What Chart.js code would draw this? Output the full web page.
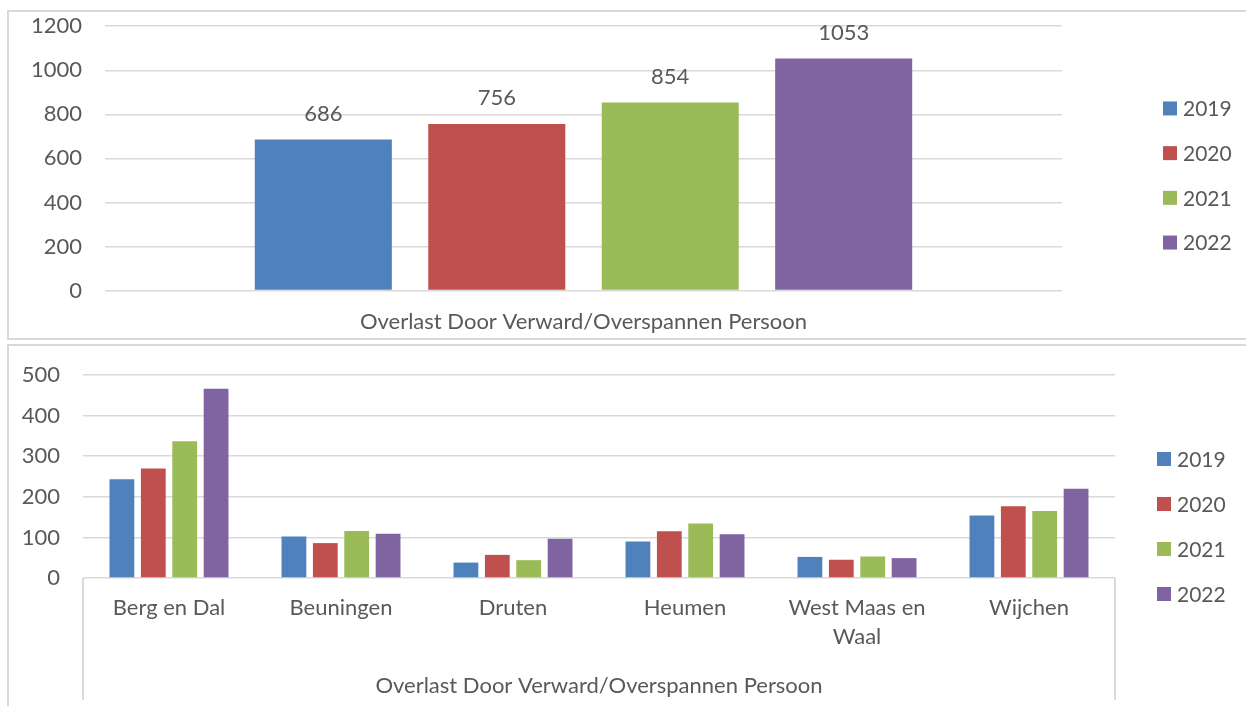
<!DOCTYPE html>
<html>
<head>
<meta charset="utf-8">
<script src="https://cdn.jsdelivr.net/npm/chart.js@4.4.0/dist/chart.umd.min.js"></script>
<style>
body { margin: 0; background: #fff; width: 1246px; height: 706px; overflow: hidden; position: relative; }
.box { position: absolute; border: 2px solid #d9d9d9; box-sizing: border-box; }
canvas { position: absolute; }
</style>
</head>
<body>
<div class="box" style="left:7px;top:10px;width:1250px;height:330px"></div>
<div class="box" style="left:7px;top:344px;width:1250px;height:380px"></div>
<canvas id="chartTotaal" style="left:9px;top:13px" width="1237" height="325"></canvas>
<canvas id="chartGemeenten" style="left:9px;top:347px" width="1237" height="359"></canvas>
<script>
const years = ['2019', '2020', '2021', '2022']
const colors = ['#4F81BD', '#C0504D', '#9BBB59', '#8064A2']

// bovenste grafiek: totaal
const totalCategory = ['Overlast Door Verward/Overspannen Persoon']
const totals = [686, 756, 854, 1053]
const topTicks = [0, 200, 400, 600, 800, 1000, 1200]

// onderste grafiek: per gemeente
const gemeenten = ['Berg en Dal', 'Beuningen', 'Druten', 'Heumen', ['West Maas en', 'Waal'], 'Wijchen']
const v2019 = [243, 102, 38, 90, 52, 154]
const v2020 = [270, 86, 57, 115, 45, 177]
const v2021 = [337, 116, 44, 134, 53, 165]
const v2022 = [466, 109, 97, 108, 49, 220]
const bottomTicks = [0, 100, 200, 300, 400, 500]
const bottomTitle = 'Overlast Door Verward/Overspannen Persoon'

Chart.defaults.font.family = 'Lato'
Chart.defaults.font.size = 22
Chart.defaults.color = '#595959'

const textColor = '#595959'
const gridColor = '#d9d9d9'

const sideLegend = {
    id: 'sideLegend',
    afterDraw(chart, args, opts) {
        const ctx = chart.ctx
        const n = chart.data.datasets.length
        const y0 = chart.height / 2 - (n - 1) * opts.gap / 2
        ctx.save()
        ctx.font = '21px Lato'
        ctx.textBaseline = 'middle'
        chart.data.datasets.forEach((ds, i) => {
            const y = y0 + i * opts.gap
            ctx.fillStyle = ds.backgroundColor
            ctx.fillRect(opts.x, y - 7, 14, 14)
            ctx.fillStyle = textColor
            ctx.fillText(ds.label, opts.x + 20, y + 1)
        })
        ctx.restore()
    }
}

const valueLabels = {
    id: 'valueLabels',
    afterDatasetsDraw(chart, args, opts) {
        if (!opts.display) return
        const ctx = chart.ctx
        ctx.save()
        ctx.font = '22px Lato'
        ctx.fillStyle = textColor
        ctx.textAlign = 'center'
        ctx.textBaseline = 'middle'
        chart.data.datasets.forEach((ds, i) => {
            chart.getDatasetMeta(i).data.forEach((bar, j) => {
                ctx.fillText(ds.data[j], bar.x, bar.y - 26)
            })
        })
        ctx.restore()
    }
}

const edgeLines = {
    id: 'edgeLines',
    afterDraw(chart, args, opts) {
        if (!opts.display) return
        const { ctx, chartArea } = chart
        ctx.save()
        ctx.strokeStyle = gridColor
        ctx.lineWidth = 2
        ;[chartArea.left, chartArea.right].forEach(x => {
            ctx.beginPath()
            ctx.moveTo(x, chartArea.bottom)
            ctx.lineTo(x, chart.height - 6)
            ctx.stroke()
        })
        ctx.restore()
    }
}

const yScale = (ticks, width) => ({
    min: ticks[0],
    max: ticks[ticks.length - 1],
    afterBuildTicks: s => { s.ticks = ticks.map(v => ({ value: v })) },
    afterFit: s => { s.width = width },
    grid: { color: gridColor, lineWidth: 1.5, drawTicks: true, tickLength: 23, tickColor: 'transparent' },
    border: { display: false },
    ticks: { padding: 0, color: textColor, callback: v => String(v) }
})

new Chart(document.getElementById('chartTotaal'), {
    type: 'bar',
    data: {
        labels: totalCategory,
        datasets: years.map((y, i) => ({
            label: y,
            data: [totals[i]],
            backgroundColor: colors[i],
            categoryPercentage: 0.725,
            barPercentage: 0.79
        }))
    },
    options: {
        responsive: false,
        animation: false,
        devicePixelRatio: 1,
        layout: { padding: { top: 13, right: 184, bottom: 3, left: 0 } },
        scales: {
            x: {
                grid: { display: false, drawTicks: true, tickLength: 18 },
                border: { display: false },
                ticks: { padding: 0, color: textColor }
            },
            y: yScale(topTicks, 96)
        },
        plugins: {
            legend: { display: false },
            tooltip: { enabled: false },
            sideLegend: { x: 1154, gap: 44.7 },
            valueLabels: { display: true },
            edgeLines: { display: false }
        }
    },
    plugins: [sideLegend, valueLabels, edgeLines]
})

const series = [v2019, v2020, v2021, v2022]

new Chart(document.getElementById('chartGemeenten'), {
    type: 'bar',
    data: {
        labels: gemeenten,
        datasets: years.map((y, i) => ({
            label: y,
            data: series[i],
            backgroundColor: colors[i],
            categoryPercentage: 0.73,
            barPercentage: 0.79
        }))
    },
    options: {
        responsive: false,
        animation: false,
        devicePixelRatio: 1,
        layout: { padding: { top: 28, right: 131, bottom: 7, left: 0 } },
        scales: {
            x: {
                grid: { display: false, drawTicks: true, tickLength: 15.5 },
                border: { display: false },
                ticks: { padding: 0, color: textColor, font: { lineHeight: 1.32 } },
                title: {
                    display: true,
                    text: bottomTitle,
                    color: textColor,
                    padding: { top: 21, bottom: 0 }
                }
            },
            y: yScale(bottomTicks, 74)
        },
        plugins: {
            legend: { display: false },
            tooltip: { enabled: false },
            sideLegend: { x: 1148, gap: 45 },
            valueLabels: { display: false },
            edgeLines: { display: true }
        }
    },
    plugins: [sideLegend, valueLabels, edgeLines]
})
</script>
</body>
</html>
